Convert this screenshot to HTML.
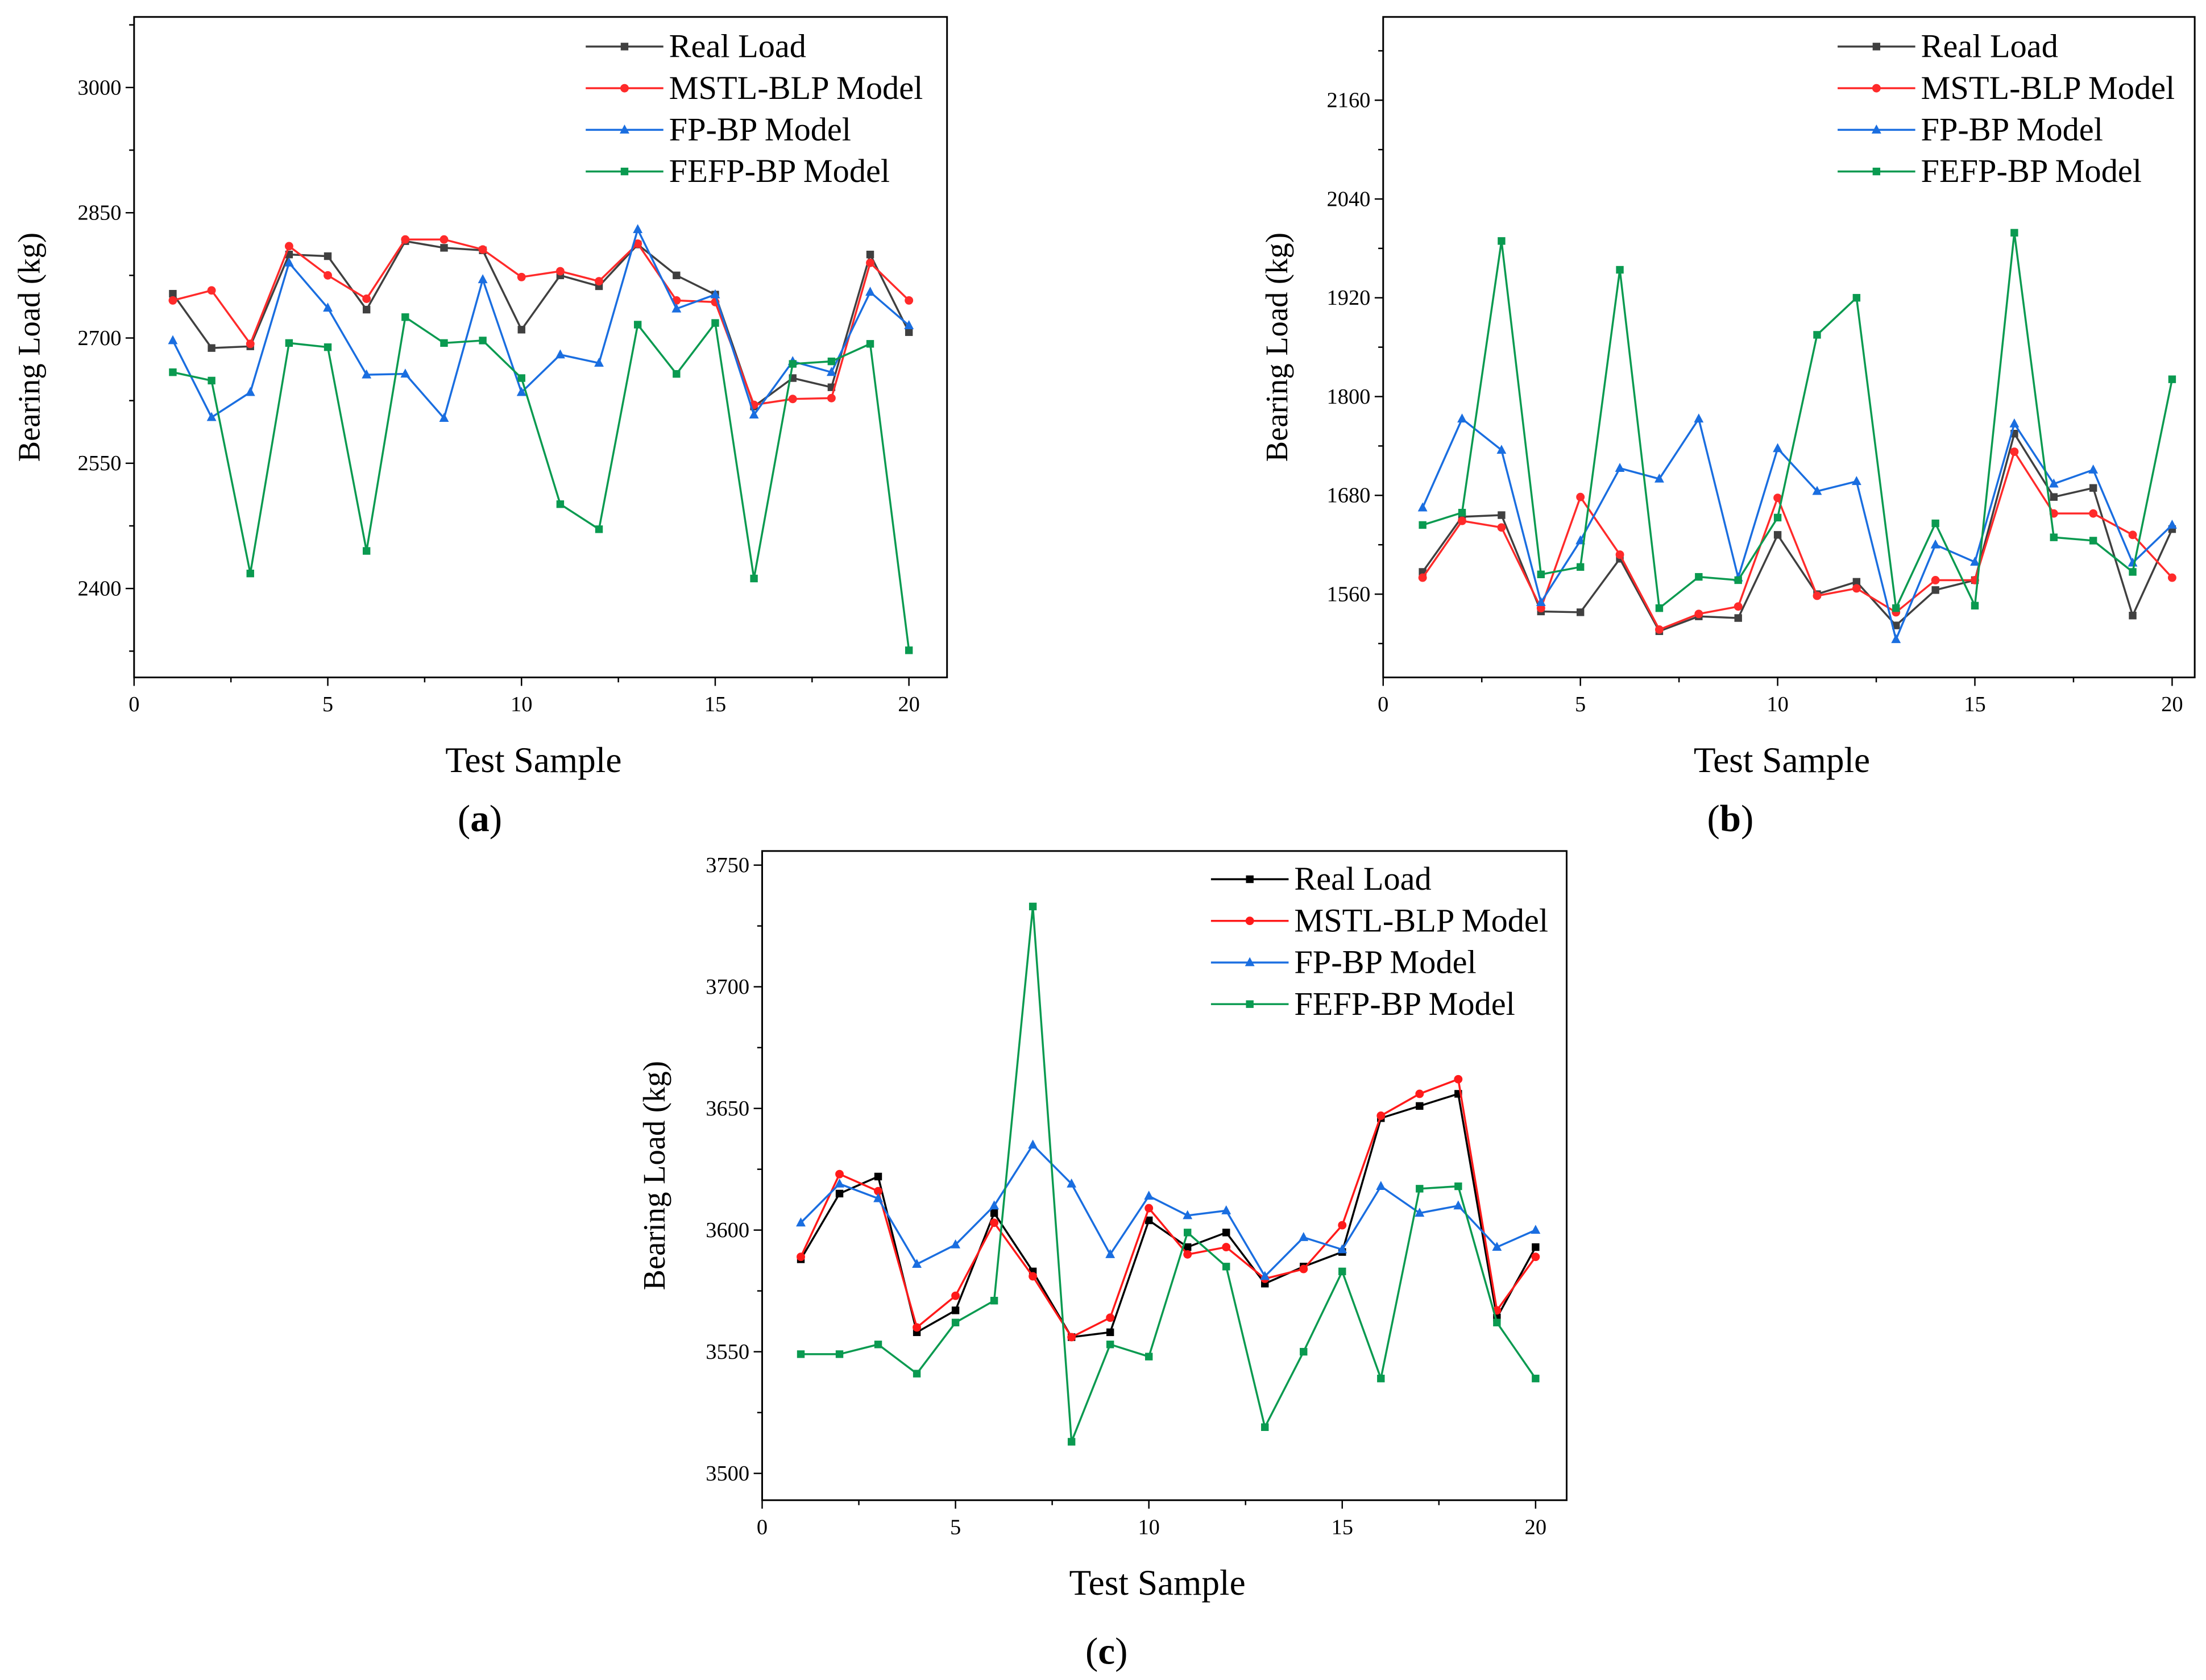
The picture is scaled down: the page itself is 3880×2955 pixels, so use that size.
<!DOCTYPE html>
<html><head><meta charset="utf-8"><style>
html,body{margin:0;padding:0;background:#fff;}
svg{display:block;}
text{font-family:"Liberation Serif",serif;fill:#000;}
</style></head><body>
<svg id="fig" width="3880" height="2955" viewBox="0 0 1563 1190.4" preserveAspectRatio="none" xmlns="http://www.w3.org/2000/svg"></svg>
<script>
const samples=[1,2,3,4,5,6,7,8,9,10,11,12,13,14,15,16,17,18,19,20];
const xTicks=[0,5,10,15,20];
const seriesNames=["Real Load","MSTL-BLP Model","FP-BP Model","FEFP-BP Model"];
const aReal=[2753,2688,2690,2800,2798,2734,2816,2808,2805,2710,2775,2762,2812,2775,2752,2618,2652,2641,2800,2707];
const aMstl=[2745,2757,2693,2810,2775,2747,2818,2818,2806,2773,2780,2768,2813,2745,2743,2620,2627,2628,2790,2745];
const aFp=[2697,2605,2635,2790,2736,2656,2657,2604,2770,2635,2680,2670,2830,2735,2752,2608,2672,2659,2755,2715];
const aFefp=[2659,2649,2418,2694,2689,2445,2725,2694,2697,2652,2501,2471,2716,2657,2718,2412,2669,2672,2693,2326];
const aYTicks=[2400,2550,2700,2850,3000];
const bReal=[1587,1654,1656,1539,1538,1603,1515,1533,1531,1632,1560,1575,1522,1565,1577,1755,1678,1689,1534,1639];
const bMstl=[1580,1649,1641,1543,1678,1608,1517,1536,1545,1677,1558,1567,1538,1577,1577,1733,1658,1658,1632,1580];
const bFp=[1665,1773,1735,1550,1625,1713,1700,1773,1580,1737,1685,1697,1505,1620,1599,1767,1694,1711,1598,1644];
const bFefp=[1644,1659,1989,1584,1593,1954,1543,1581,1577,1653,1875,1920,1543,1646,1546,1999,1629,1625,1587,1821];
const bYTicks=[1560,1680,1800,1920,2040,2160];
const cReal=[3588,3615,3622,3558,3567,3607,3583,3556,3558,3604,3593,3599,3578,3585,3591,3646,3651,3656,3564,3593];
const cMstl=[3589,3623,3616,3560,3573,3603,3581,3556,3564,3609,3590,3593,3580,3584,3602,3647,3656,3662,3567,3589];
const cFp=[3603,3619,3613,3586,3594,3610,3635,3619,3590,3614,3606,3608,3581,3597,3592,3618,3607,3610,3593,3600];
const cFefp=[3549,3549,3553,3541,3562,3571,3733,3513,3553,3548,3599,3585,3519,3550,3583,3539,3617,3618,3562,3539];
const cYTicks=[3500,3550,3600,3650,3700,3750];

const NS="http://www.w3.org/2000/svg";
const svg=document.getElementById('fig');
function mk(tag,attrs,parent){const e=document.createElementNS(NS,tag);for(const k in attrs)e.setAttribute(k,attrs[k]);(parent||svg).appendChild(e);return e;}

function panel(id,cfg,series,yTicks,colors,markers){
  const g=mk('g',{});
  
  
  const {x0,x1,y0,y1,xz,x20,vLo,yLo,vHi,yHi,ymin,ymax}=cfg;
  const X=v=>xz+(x20-xz)*v/20;
  const Y=v=>yLo+(yHi-yLo)*(v-vLo)/(vHi-vLo);
  const frame=mk('rect',{x:x0,y:y0,width:x1-x0,height:y1-y0,fill:'none',stroke:'#000','stroke-width':1.2},g);
  
  
  for(let v=0;v<=20;v+=2.5){const maj=v%5===0;mk('line',{x1:X(v),x2:X(v),y1:y1,y2:y1+(maj?6:3.5),stroke:'#000','stroke-width':1},g);}
  xTicks.forEach(v=>{const t=mk('text',{x:X(v),y:y1+24,'text-anchor':'middle','font-size':15.5},g);t.textContent=v;
    });
  const step=yTicks[1]-yTicks[0];
  for(let v=yTicks[0]-step;v<=ymax;v+=step/2){const yy=Y(v);if(yy<y0||yy>y1)continue;const maj=((v-yTicks[0])/step)%1===0;
    mk('line',{x1:x0,x2:x0-(maj?6:3.5),y1:yy,y2:yy,stroke:'#000','stroke-width':1},g);}
  yTicks.forEach(v=>{const t=mk('text',{x:x0-9,y:Y(v)+5,'text-anchor':'end','font-size':15.5},g);t.textContent=v;
    });
  const yl=mk('text',{x:0,y:0,'text-anchor':'middle','font-size':22,transform:`translate(${cfg.ylx},${(y0+y1)/2}) rotate(-90)`},g);
  yl.textContent='Bearing Load (kg)';
  
  const xl=mk('text',{x:(x0+x1)/2-5,y:y1+67,'text-anchor':'middle','font-size':25.5},g);
  xl.textContent='Test Sample';
  
  const pl=mk('text',{x:cfg.plx,y:cfg.ply,'text-anchor':'middle','font-size':27},g);
  pl.innerHTML='(<tspan font-weight="bold">'+id+'</tspan>)';
  
  series.forEach((vals,i)=>{
    const pts=vals.map((v,j)=>[X(samples[j]),Y(v)]);
    const line=mk('polyline',{points:pts.map(p=>p.join(',')).join(' '),fill:'none',stroke:colors[i],'stroke-width':1.4},g);
    
    
    pts.forEach(p=>{let m;
      if(markers[i]==='s')m=mk('rect',{x:p[0]-2.7,y:p[1]-2.7,width:5.4,height:5.4,fill:colors[i]},g);
      else if(markers[i]==='c')m=mk('circle',{cx:p[0],cy:p[1],r:3,fill:colors[i]},g);
      else m=mk('polygon',{points:`${p[0]},${p[1]-3.8} ${p[0]-3.4},${p[1]+2.6} ${p[0]+3.4},${p[1]+2.6}`,fill:colors[i]},g);
      
      });
  });
  seriesNames.forEach((n,i)=>{const ly=cfg.legY+i*29.5;
    const lg=mk('g',{},g);
    
    
    mk('line',{x1:cfg.legX,x2:cfg.legX+55,y1:ly,y2:ly,stroke:colors[i],'stroke-width':1.4},lg);
    const cx=cfg.legX+27.5;
    if(markers[i]==='s')mk('rect',{x:cx-2.7,y:ly-2.7,width:5.4,height:5.4,fill:colors[i]},lg);
    else if(markers[i]==='c')mk('circle',{cx:cx,cy:ly,r:3,fill:colors[i]},lg);
    else mk('polygon',{points:`${cx},${ly-3.8} ${cx-3.4},${ly+2.6} ${cx+3.4},${ly+2.6}`,fill:colors[i]},lg);
    const t=mk('text',{x:cfg.legX+59,y:ly+7.5,'font-size':23.5},lg);t.textContent=n;});
}
const mk4=['s','c','t','s'];
panel('a',{x0:95,x1:671,y0:12,y1:480,xz:95,x20:644,vLo:2400,yLo:417,vHi:3000,yHi:62,ymax:3085,ylx:28,plx:340,ply:589,legX:415,legY:33},
  [aReal,aMstl,aFp,aFefp],aYTicks,['#404040','#ff2a2a','#1a6ee0','#0a9a50'],mk4);
panel('b',{x0:980,x1:1555,y0:12,y1:480,xz:980,x20:1539,vLo:1560,yLo:421,vHi:2160,yHi:71,ymax:2261,ylx:912,plx:1226,ply:589,legX:1302,legY:33},
  [bReal,bMstl,bFp,bFefp],bYTicks,['#404040','#ff2a2a','#1a6ee0','#0a9a50'],mk4);
panel('c',{x0:540,x1:1110,y0:603,y1:1063,xz:540,x20:1088,vLo:3500,yLo:1044,vHi:3750,yHi:613,ymax:3756,ylx:471,plx:784,ply:1179,legX:858,legY:623},
  [cReal,cMstl,cFp,cFefp],cYTicks,['#000000','#ff1a1a','#1a6ee0','#0a9a50'],mk4);
</script>
</body></html>
